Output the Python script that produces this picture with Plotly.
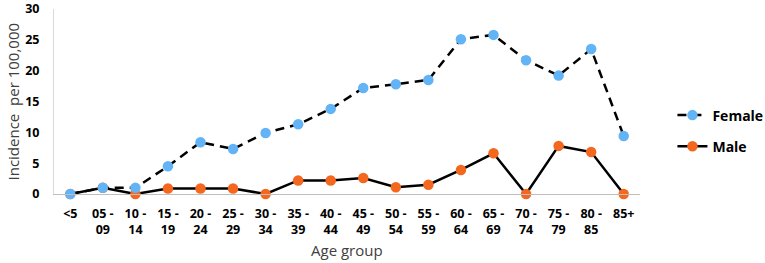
import plotly.graph_objects as go

age_groups = ["<5", "05 -<br>09", "10 -<br>14", "15 -<br>19", "20 -<br>24", "25 -<br>29",
              "30 -<br>34", "35 -<br>39", "40 -<br>44", "45 -<br>49", "50 -<br>54", "55 -<br>59",
              "60 -<br>64", "65 -<br>69", "70 -<br>74", "75 -<br>79", "80 -<br>85", "85+"]
female = [0, 1.0, 1.0, 4.5, 8.4, 7.3, 9.9, 11.3, 13.8, 17.2, 17.8, 18.5, 25.1, 25.8, 21.7, 19.2, 23.5, 9.4]
male = [0, 1.0, 0, 0.9, 0.9, 0.9, 0, 2.2, 2.2, 2.6, 1.1, 1.5, 3.9, 6.6, 0, 7.8, 6.8, 0]
y_ticks = [0, 5, 10, 15, 20, 25, 30]

W, H = 765, 263
L, R, T, B = 54, 125, 9, 69
pw, ph = W - L - R, H - T - B

fig = go.Figure()
fig.add_trace(go.Scatter(
    x=age_groups, y=male, name="Male", mode="lines+markers",
    line=dict(color="black", width=2.5),
    marker=dict(color="#F4671F", size=10.5),
    cliponaxis=False, legendrank=2, legendgroup="m"))
fig.add_trace(go.Scatter(
    x=age_groups, y=female, name="Female", mode="lines+markers",
    line=dict(color="black", width=2.5, dash="9px,6px"),
    marker=dict(color="#62B4F6", size=10.5),
    cliponaxis=False, legendrank=1, legendgroup="f"))

fig.update_layout(
    width=W, height=H,
    margin=dict(l=L, r=R, t=T, b=B, autoexpand=False),
    plot_bgcolor="white", paper_bgcolor="white",
    font=dict(family="Open Sans", color="#000000"),
    showlegend=True,
    legend=dict(
        traceorder="grouped", tracegroupgap=10,
        xref="container", yref="container",
        x=0.879, y=1 - 131 / H, xanchor="left", yanchor="middle",
        font=dict(size=14, family="Open Sans", weight="bold", color="#000000"),
        bgcolor="rgba(0,0,0,0)"),
    xaxis=dict(
        type="category", range=[-0.5, len(age_groups) - 0.5],
        showgrid=False, showline=True, linecolor="#BFBFBF", linewidth=1,
        ticks="", automargin=False, ticklabelstandoff=8,
        tickfont=dict(size=12.5, family="Open Sans", weight="bold", color="#000000")),
    yaxis=dict(
        range=[0, 30], tickvals=y_ticks, showgrid=False, zeroline=False,
        showline=True, linecolor="#D9D9D9", linewidth=1, ticks="", automargin=False,
        ticklabelstandoff=11,
        tickfont=dict(size=12.5, family="Open Sans", weight="bold", color="#000000")),
    annotations=[
        dict(text="Age group", xref="paper", yref="paper", x=0.5, y=(T + ph - 250) / ph,
             xanchor="center", yanchor="middle", showarrow=False,
             font=dict(size=15, color="#404040", family="Open Sans")),
        dict(text="Incidence  per 100,000", xref="paper", yref="paper", x=(12 - L) / pw, y=0.5,
             xanchor="center", yanchor="middle", textangle=-90, showarrow=False,
             font=dict(size=15, color="#404040", family="Open Sans")),
    ],
)

fig.write_html("out.html", config={"displayModeBar": False},
               post_script="document.body.style.margin='0';")
